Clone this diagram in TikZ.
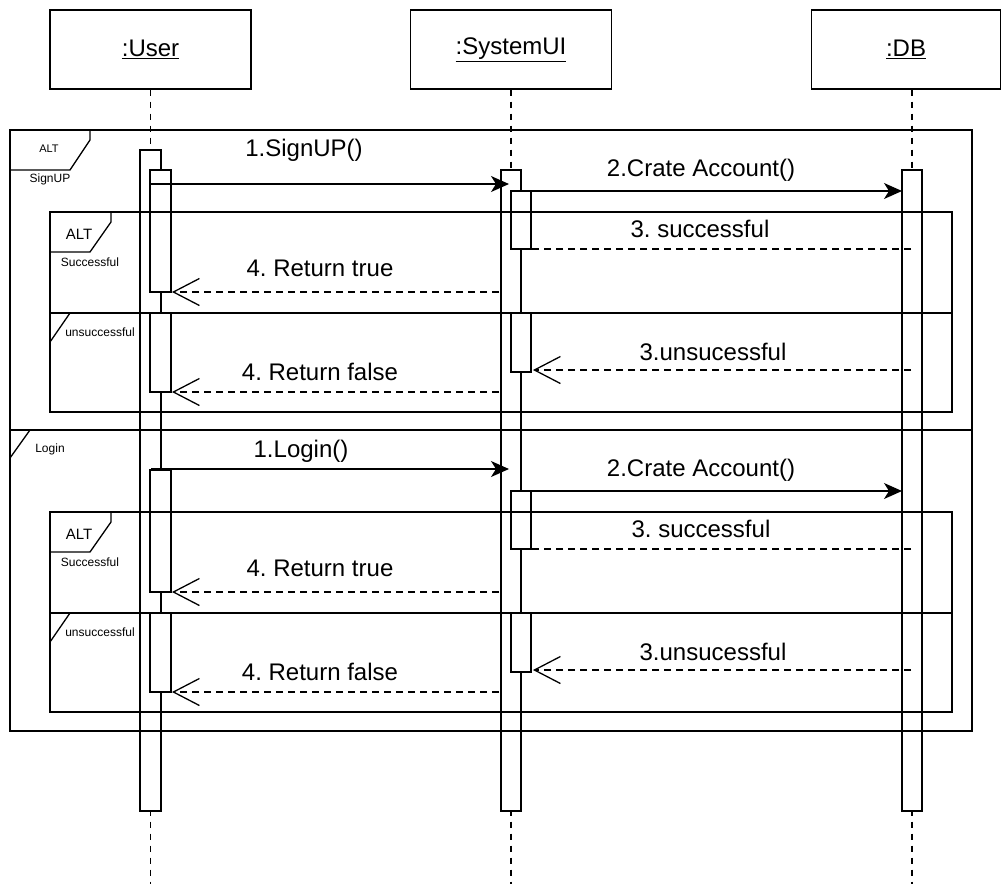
\documentclass[tikz,border=0pt]{standalone}
\usepackage{fontspec}
\setmainfont{Liberation Sans}
\usetikzlibrary{arrows.meta}
\frenchspacing
\tikzset{
  seqline/.style={line width=1.3pt},
  lifedash/.style={line width=1.2pt, dash pattern=on 6pt off 6pt},
  lifebox/.style={draw, line width=1.3pt, minimum height=79pt, inner sep=0pt, font=\fontsize{24}{28}\selectfont},
  actbar/.style={draw, fill=white, line width=1.3pt},
  callmsg/.style={line width=1.3pt, -{Stealth[length=18pt,width=16pt,inset=5pt]}},
  retmsg/.style={line width=1.2pt, dash pattern=on 7pt off 5pt, -{Straight Barb[length=26pt,width=27pt,line width=1.3pt]}},
  replymsg/.style={line width=1.2pt, dash pattern=on 7pt off 5pt},
  msglabel/.style={inner sep=0pt, font=\fontsize{24}{28}\selectfont},
  guardlabel/.style={inner sep=0pt, font=\fontsize{12}{14}\selectfont},
}
\begin{document}
\begin{tikzpicture}[x=1pt, y=-1pt]
\useasboundingbox (0,0) rectangle (1003,884);
% Lifeline heads
\node[lifebox, minimum width=201pt] (user) at (150.5,49.5) {\underline{:User}};
\node[lifebox, minimum width=201pt] (sysui) at (511,49.5) {\underline{:SystemUI}};
\node[lifebox, minimum width=189pt] (db) at (906,49.5) {\underline{:DB}};
% Lifelines
\coordinate (userend) at (150.5,884);
\coordinate (sysuiend) at (511,884);
\coordinate (dbend) at (912,884);
\draw[lifedash] (user.south) -- (userend);
\draw[lifedash] (sysui.south) -- (sysuiend);
\draw[lifedash] (db.south -| dbend) -- (dbend);
% Activation bars
\draw[actbar] (140,150) rectangle (161,811);
\draw[actbar] (501,170) rectangle (521,811);
\draw[actbar] (902,170) rectangle (922,811);
\draw[actbar] (150,170) rectangle (171,292);
\draw[actbar] (150,313) rectangle (171,392);
\draw[actbar] (150,470) rectangle (171,592);
\draw[actbar] (150,613) rectangle (171,692);
\draw[actbar] (511,191) rectangle (531,249);
\draw[actbar] (511,313) rectangle (531,372);
\draw[actbar] (511,491) rectangle (531,549);
\draw[actbar] (511,613) rectangle (531,672);
% Outer ALT frame
\draw[seqline] (10,130) rectangle (972,731);
\draw[seqline] (10,430) -- (972,430);
\draw[seqline] (10,170) -- (70,170) -- (90,140) -- (90,130);
\draw[seqline] (10,458) -- (30,430);
\node[inner sep=0pt, font=\fontsize{11}{13}\selectfont] (alt0) at (49,149) {ALT};
\node[guardlabel] (gsignup) at (50,179) {SignUP};
\node[guardlabel] (glogin) at (50,449) {Login};
% Inner ALT frame, SignUP
\draw[seqline] (50,212) rectangle (952,412);
\draw[seqline] (50,313) -- (952,313);
\draw[seqline] (50,252) -- (90,252) -- (111,222) -- (111,212);
\draw[seqline] (50,342) -- (70,313);
\node[inner sep=0pt, font=\fontsize{15}{17}\selectfont] (alt1) at (79,234) {ALT};
\node[guardlabel] (gok1) at (90,262) {Successful};
\node[guardlabel] (gfail1) at (100,332) {unsuccessful};
% Inner ALT frame, Login
\draw[seqline] (50,512) rectangle (952,712);
\draw[seqline] (50,613) -- (952,613);
\draw[seqline] (50,552) -- (90,552) -- (111,522) -- (111,512);
\draw[seqline] (50,642) -- (70,613);
\node[inner sep=0pt, font=\fontsize{15}{17}\selectfont] (alt2) at (79,534) {ALT};
\node[guardlabel] (gok2) at (90,562) {Successful};
\node[guardlabel] (gfail2) at (100,632) {unsuccessful};
% Messages, SignUP
\coordinate (u1) at (151,184);   \coordinate (s1) at (509,184);
\coordinate (s2) at (531,191);   \coordinate (d2) at (902,191);
\coordinate (d3) at (911,249);   \coordinate (s3) at (531,249);
\coordinate (s4) at (499,292);   \coordinate (u4) at (172,292);
\coordinate (d5) at (911,370);   \coordinate (s5) at (533,370);
\coordinate (s6) at (499,392);   \coordinate (u6) at (172,392);
\draw[callmsg] (u1) -- (s1);
\draw[callmsg] (s2) -- (d2);
\draw[replymsg] (d3) -- (s3);
\draw[retmsg] (s4) -- (u4);
\draw[retmsg] (d5) -- (s5);
\draw[retmsg] (s6) -- (u6);
\node[msglabel] (m1) at (304,150) {1.SignUP()};
\node[msglabel] (m2) at (701,170) {2.Crate Account()};
\node[msglabel] (m3) at (700,229) {3. successful};
\node[msglabel] (m4) at (320,268) {4. Return true};
\node[msglabel] (m5) at (713,352) {3.unsucessful};
\node[msglabel] (m6) at (320,372) {4. Return false};
% Messages, Login
\coordinate (u7) at (151,469);   \coordinate (s7) at (509,469);
\coordinate (s8) at (531,491);   \coordinate (d8) at (902,491);
\coordinate (d9) at (911,549);   \coordinate (s9) at (531,549);
\coordinate (s10) at (499,592);  \coordinate (u10) at (172,592);
\coordinate (d11) at (911,670);  \coordinate (s11) at (533,670);
\coordinate (s12) at (499,692);  \coordinate (u12) at (172,692);
\draw[callmsg] (u7) -- (s7);
\draw[callmsg] (s8) -- (d8);
\draw[replymsg] (d9) -- (s9);
\draw[retmsg] (s10) -- (u10);
\draw[retmsg] (d11) -- (s11);
\draw[retmsg] (s12) -- (u12);
\node[msglabel] (m7) at (301,451) {1.Login()};
\node[msglabel] (m8) at (701,470) {2.Crate Account()};
\node[msglabel] (m9) at (701,529) {3. successful};
\node[msglabel] (m10) at (320,568) {4. Return true};
\node[msglabel] (m11) at (713,652) {3.unsucessful};
\node[msglabel] (m12) at (320,672) {4. Return false};
\end{tikzpicture}
\end{document}
